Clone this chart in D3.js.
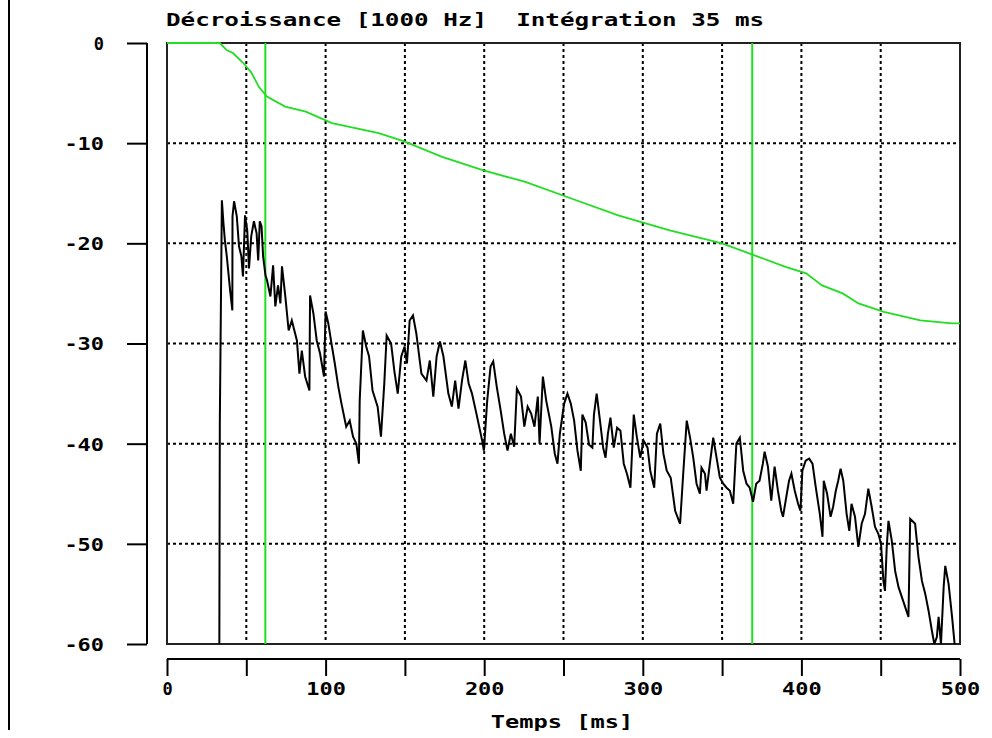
<!DOCTYPE html>
<html>
<head>
<meta charset="utf-8">
<script src="https://cdn.jsdelivr.net/npm/d3@7"></script>
<style>
  body { margin: 0; background: #fff; }
  svg { display: block; }
  text { font-family: "DejaVu Sans Mono", monospace; font-weight: bold; fill: #000; white-space: pre; }
  .grid line { stroke: #000; stroke-width: 2; stroke-dasharray: 3,3; }
</style>
</head>
<body>
<svg width="992" height="738"></svg>
<script>
// courbe de décroissance (noir) : temps en ms, niveau en dB
const decayTime = [33, 33.3, 34.6, 35.6, 36.5, 37.7, 39.8, 41.2, 41.3, 42.3, 44, 45.4, 46.9, 47.9, 49.2, 50.6, 51.7, 53.1, 54.8, 56.5, 57.5, 58.5, 59.6, 60.6, 62.1, 63.1, 65.2, 66.9, 68.3, 70, 71.5, 72.5, 74.6, 76.7, 78.7, 81.9, 83.5, 85, 87.1, 89.8, 90.2, 92.3, 94.4, 96.5, 99, 100, 101.7, 103.7, 105.8, 108, 110, 113, 115.2, 117.3, 119.4, 121, 121.5, 123.5, 125.6,
  127.4, 129.6, 132.8, 134.9, 137, 138.5, 141.3, 143.4, 145.5, 147.7, 149.8, 151.3, 153, 155.1, 157.2, 160.4, 163.6, 165.7, 167.9, 170, 172.1, 174.3, 177.4, 179.6, 181.7, 183.8, 186, 188.1, 190.2, 192.3, 195.5, 198.7, 199.8, 201.9, 204, 205.7, 207.9, 210.4, 212.6, 214.7, 216.8, 218.9, 220.6, 223.2, 225.3, 227.4, 229.6, 231.7, 233.8, 234.9, 237, 239.1, 242.3, 244.5, 246.2, 247.7,
  250.4, 252.5, 254.6, 256.7, 258.8, 260.9, 261.9, 264, 266.1, 268.2, 269.2, 270.9, 273, 275, 276.5, 278, 279.6, 281.7, 283.8, 285.9, 288, 290, 292.2, 294.3, 296.3, 298.4, 300.5, 303, 304.7, 307.2, 308.9, 311, 313, 315.1, 317.6, 320.4, 323.5, 325.6, 327.7, 329.8, 331.8, 333.9, 336, 337, 339.2, 340.2, 342.3, 344.4, 346.5, 348.6, 350.7, 352.8, 354.9, 357, 359, 361.2, 363.3, 365.4, 367.4, 369.5,
  371.5, 373.6, 375.7, 376.8, 378.9, 381, 383.1, 385.2, 387.3, 388.4, 390.5, 392.2, 393.7, 395.8, 397.9, 399.4, 400.6, 402.7, 404.9, 407, 409, 411.6, 413.3, 414.1, 416.2, 418.4, 420, 421.7, 423.2, 424.7, 426.4, 428.5, 430.2, 431.6, 433.8, 435.9, 438, 440.1, 442.2, 444.3, 446.4, 448.5, 450.2, 451.7, 452.7, 453.8, 454.9, 457, 459.1, 461.2, 463.3, 465.4, 467.5, 468.6, 471.7, 473.8, 476, 478.1, 480.2, 482.3, 483.8, 485.4, 486.5, 488, 489.7, 490.7, 492.8, 495, 496.6];
const decayDb = [-60, -38, -15.7, -18, -19.7, -21.3, -24.7, -26.7, -17.3, -15.8, -17.3, -20.3, -21.3, -23.3, -17.2, -18.7, -22.5, -19.3, -17.8, -19, -21.7, -17.8, -18.3, -21.3, -23.2, -23.7, -25.3, -22.2, -26.3, -24.2, -26, -22.3, -25.3, -28.7, -27.7, -29.7, -33, -30.7, -33.3, -34.7, -25.2, -27, -29.7, -31, -33.3, -26.8, -28, -30, -32, -34.3, -36, -38.3, -37.7, -39.3, -40, -42, -35.7, -28.7, -30.3,
  -31.3, -34.7, -36.3, -39.3, -34, -29.2, -30, -32.8, -35, -31.3, -30.3, -32, -27.7, -27.2, -29, -33, -33.7, -31.7, -35.3, -31.3, -29.8, -31.3, -35, -36.3, -33.7, -36.5, -33.7, -31.7, -34, -35, -37.3, -39.7, -40.7, -35.7, -32.3, -31.8, -34.3, -36.7, -39, -40.7, -39, -40.3, -34.5, -35.3, -38.3, -36.3, -37, -38.3, -35.3, -40, -33.3, -35.7, -38.3, -41, -42, -39,
  -36, -35, -36, -37.7, -40.7, -42.7, -37.1, -37.9, -40.1, -40.4, -37.1, -35, -37.7, -40.4, -41.4, -39, -37.4, -40.4, -38.4, -38.7, -42, -43, -44.4, -37.1, -39.4, -41.4, -39.7, -40.4, -42.7, -44.4, -39, -38, -41, -42.7, -43.4, -46.7, -48, -42.7, -37.7, -39.4, -41.4, -44, -45, -42.4, -43, -44.7, -42, -39.4, -41.4, -43.4, -44, -44.4, -44.7, -46, -40, -39.4, -42.7, -44, -44.4, -45.8,
  -44, -43.7, -42, -40.8, -42.3, -45.7, -42.3, -44.7, -46.7, -47.3, -45.3, -43.7, -43, -44.7, -46, -46.7, -42.7, -41.7, -41.5, -42, -44.3, -47, -49.3, -43.7, -45, -47.3, -46.3, -44.7, -43.7, -42.5, -43.7, -47, -48.7, -46, -47.3, -50.3, -48, -47, -44.5, -46.3, -48.3, -49, -50, -53.7, -54.7, -50.3, -47.7, -49.7, -52.7, -54.3, -55.3, -56.3, -57.3, -47.5, -48, -51.3, -53.7, -55, -56.7, -58.7, -60, -59.3, -57.3, -60, -54.3, -52.2, -54, -57.3, -60];

// intégration inverse (vert)
const integTime = [0, 33.3, 37.6, 41.6, 48.1, 53, 58, 63, 74.5, 87.5, 104, 133.5, 150, 173, 199, 225.5, 258, 284.5, 317, 350, 373, 390, 403, 413, 426, 436, 452, 475, 495, 500];
const integDb = [0, 0, -0.7, -1.0, -2.0, -2.9, -4.4, -5.35, -6.35, -6.85, -8.0, -9.0, -9.85, -11.35, -12.7, -13.85, -15.7, -17.2, -18.7, -20.0, -21.35, -22.35, -23.0, -24.2, -25.0, -26.0, -26.85, -27.7, -28.0, -28.0];

// curseurs verticaux (ms)
const cursorTimes = [62, 369];

const xTicks = [0, 50, 100, 150, 200, 250, 300, 350, 400, 450, 500];
const xLabels = [0, 100, 200, 300, 400, 500];
const yTicks = [0, -10, -20, -30, -40, -50, -60];

const title = "Décroissance [1000 Hz]  Intégration 35 ms";
const xTitle = "Temps [ms]";

const svg = d3.select("svg");
const pLeft = 167, pRight = 960, pTop = 43, pBottom = 644;
const charW = 14.7, gap = 4.5, fontSize = 18;

const x = d3.scaleLinear().domain([0, 500]).range([pLeft, pRight]);
const y = d3.scaleLinear().domain([-60, 0]).range([pBottom, pTop]);

// cadre extérieur gauche
svg.append("line").attr("x1", 9).attr("x2", 9).attr("y1", 0).attr("y2", 730)
   .attr("stroke", "#000").attr("stroke-width", 2);

// grille pointillée
const grid = svg.append("g").attr("class", "grid");
grid.selectAll(".v").data(xTicks.slice(1, -1)).enter().append("line")
    .attr("x1", d => x(d)).attr("x2", d => x(d)).attr("y1", pTop).attr("y2", pBottom);
grid.selectAll(".h").data(yTicks.slice(1, -1)).enter().append("line")
    .attr("x1", pLeft).attr("x2", pRight).attr("y1", d => y(d)).attr("y2", d => y(d));

// cadre du tracé
svg.append("rect").attr("x", pLeft).attr("y", pTop).attr("width", pRight - pLeft).attr("height", pBottom - pTop)
   .attr("fill", "none").attr("stroke", "#222").attr("stroke-width", 2);

svg.append("defs").append("clipPath").attr("id", "plot")
   .append("rect").attr("x", pLeft).attr("y", pTop - 1).attr("width", pRight - pLeft).attr("height", pBottom - pTop + 1);

// curseurs verts
svg.selectAll(".cursor").data(cursorTimes).enter().append("line")
   .attr("x1", d => x(d)).attr("x2", d => x(d)).attr("y1", pTop).attr("y2", pBottom)
   .attr("stroke", "#1ee01e").attr("stroke-width", 2);

const pts = (ts, vs) => ts.map((t, i) => [t, vs[i]]);
const line = d3.line().x(d => x(d[0])).y(d => y(d[1]));

svg.append("path").datum(pts(integTime, integDb))
   .attr("clip-path", "url(#plot)")
   .attr("fill", "none").attr("stroke", "#22dd22").attr("stroke-width", 1.8)
   .attr("d", line);

svg.append("path").datum(pts(decayTime, decayDb))
   .attr("clip-path", "url(#plot)")
   .attr("fill", "none").attr("stroke", "#000").attr("stroke-width", 2)
   .attr("d", line);

function fitText(sel) {
  sel.each(function () {
    const n = this.textContent.length;
    if (n) d3.select(this).attr("textLength", n * charW - gap).attr("lengthAdjust", "spacingAndGlyphs");
  });
}

// axe Y décalé
const yAxis = svg.append("g").attr("transform", "translate(147,0)")
   .call(d3.axisLeft(y).tickValues(yTicks).tickSize(20).tickPadding(23).tickFormat(d => String(d)));
yAxis.selectAll("path").attr("d", `M0,${pTop}V${pBottom}`).attr("stroke-width", 2);
yAxis.selectAll(".tick line").attr("stroke-width", 2);
yAxis.selectAll(".tick text").attr("font-size", fontSize).attr("dy", "0.36em").call(fitText);
yAxis.attr("font-family", null).attr("font-size", null);

// axe X décalé
const xAxis = svg.append("g").attr("transform", "translate(0,659)")
   .call(d3.axisBottom(x).tickValues(xTicks).tickSize(17).tickPadding(6)
     .tickFormat(d => xLabels.includes(d) ? String(d) : ""));
xAxis.selectAll("path").attr("d", `M${pLeft},0H${pRight}`).attr("stroke-width", 2);
xAxis.selectAll(".tick line").attr("stroke-width", 2);
xAxis.selectAll(".tick text").attr("font-size", fontSize).call(fitText);
xAxis.attr("font-family", null).attr("font-size", null);

svg.append("text").attr("x", 166).attr("y", 26).attr("font-size", fontSize)
   .text(title).call(fitText);

svg.append("text").attr("x", 562).attr("y", 728).attr("font-size", fontSize)
   .attr("text-anchor", "middle").text(xTitle).call(fitText);

// bas de l'image coupé
svg.append("rect").attr("x", 0).attr("y", 731).attr("width", 992).attr("height", 7).attr("fill", "#fff");
</script>
</body>
</html>
